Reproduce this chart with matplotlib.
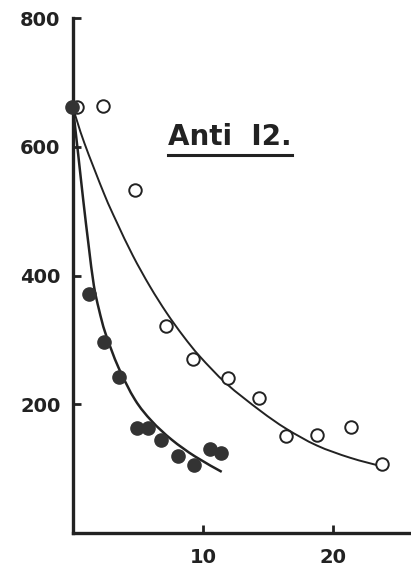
import matplotlib
matplotlib.use("Agg")
import matplotlib.pyplot as plt
import numpy as np
from matplotlib.lines import Line2D
from matplotlib.path import Path
from matplotlib.patches import PathPatch

# open circles (upper series)
open_x = [0.3, 2.3, 4.8, 7.15, 9.2, 11.9, 14.3, 16.4, 18.8, 21.4, 23.8]
open_y = [662, 663, 533, 322, 271, 241, 210, 150, 152, 165, 107]

# filled circles (lower series)
filled_x = [-0.1, 1.25, 2.4, 3.5, 4.9, 5.8, 6.8, 8.05, 9.3, 10.5, 11.4]
filled_y = [662, 372, 296, 243, 163, 163, 145, 120, 105, 130, 124]

# fitted curves as drawn in the figure
open_curve_x = [0, 0.87, 2.41, 3.36, 4.6, 5.92, 7.2, 8.48, 9.77, 11.8, 14.4, 16.4, 18.75, 21.3, 23.85]
open_curve_y = [660, 606, 526, 483, 431, 383, 342, 306, 274, 232, 190, 162, 136, 117, 103]
filled_curve_x = [0, 0.4, 0.8, 1.2, 1.6, 2.0, 2.5, 3.5, 4.77, 6.05, 7.59, 9.38, 11.44]
filled_curve_y = [660, 588, 515, 447, 385, 347, 310, 257, 207, 174, 145, 119, 95]

y_ticks = [200, 400, 600, 800]
x_ticks = [10, 20]

ink = "#222222"


def smooth_path(xs, ys):
    # catmull-rom through the read points, drawn as bezier segments
    p = np.column_stack([xs, ys]).astype(float)
    p = np.vstack([p[0], p, p[-1]])
    verts = [p[1]]
    codes = [Path.MOVETO]
    for i in range(1, len(p) - 2):
        c1 = p[i] + (p[i + 1] - p[i - 1]) / 6
        c2 = p[i + 1] - (p[i + 2] - p[i]) / 6
        verts += [c1, c2, p[i + 1]]
        codes += [Path.CURVE4] * 3
    return Path(verts, codes)


fig = plt.figure(figsize=(4.11, 5.66), dpi=100)
ax = fig.add_axes([73 / 411, 33 / 566, 338 / 411, 515 / 566])
ax.set_xlim(0, 26)
ax.set_ylim(0, 800)

ax.add_patch(PathPatch(smooth_path(open_curve_x, open_curve_y), fill=False,
                       ec=ink, lw=1.4, clip_on=False))
ax.add_patch(PathPatch(smooth_path(filled_curve_x, filled_curve_y), fill=False,
                       ec=ink, lw=1.8, clip_on=False))

ax.plot(open_x, open_y, "o", ms=9, mfc="white", mec=ink, mew=1.4, clip_on=False, zorder=3)
ax.plot(filled_x, filled_y, "o", ms=9.5, mfc="#333333", mec="#333333", clip_on=False, zorder=4)

for s in ["top", "right"]:
    ax.spines[s].set_visible(False)
for s in ["left", "bottom"]:
    ax.spines[s].set_linewidth(2.4)
    ax.spines[s].set_color(ink)

ax.set_yticks(y_ticks)
ax.set_xticks(x_ticks)
ax.set_yticklabels([str(v) for v in y_ticks], fontsize=14, fontweight="bold", color=ink)
ax.set_xticklabels([str(v) for v in x_ticks], fontsize=14, fontweight="bold", color=ink)
ax.tick_params(axis="both", direction="in", length=6, width=2, color=ink)
ax.tick_params(axis="y", pad=9)
ax.tick_params(axis="x", pad=11)

title = ax.text(7.3, 603, "Anti  I2.", fontsize=20, fontweight="bold", color=ink, va="baseline")

fig.canvas.draw()
bb = title.get_window_extent(fig.canvas.get_renderer())
y_line = bb.y0 - 4
fig.add_artist(Line2D([bb.x0 / fig.bbox.width, bb.x1 / fig.bbox.width],
                      [y_line / fig.bbox.height, y_line / fig.bbox.height],
                      color=ink, lw=2.2))

fig.savefig("out.png", dpi=100)
